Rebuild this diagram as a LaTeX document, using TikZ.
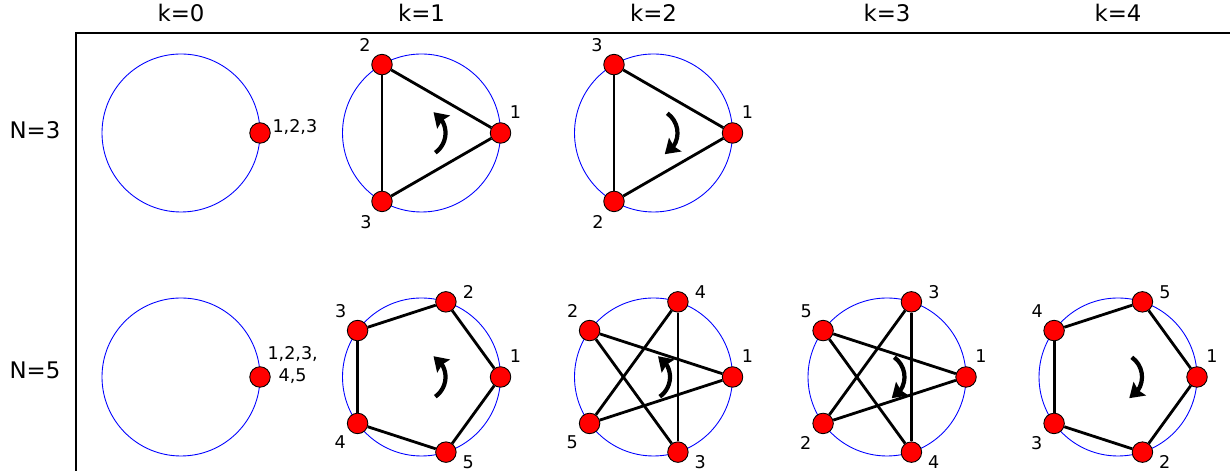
\documentclass[tikz,border=0pt]{standalone}
\usepackage{fontspec}
\setmainfont{DejaVu Sans}
\usetikzlibrary{positioning, arrows.meta, bending, calc}
\definecolor{ptred}{RGB}{255, 0, 0}
\definecolor{ringblue}{RGB}{0, 0, 255}

\begin{document}
\begin{tikzpicture}[
                ring/.style={draw=ringblue, line width=0.5pt},
                pt/.style={circle, draw=black, line width=0.5pt, fill=ptred, minimum size=0.41cm, inner sep=0pt},
                lbl/.style={font=\fontsize{10}{12.5}\selectfont, inner sep=0pt},
                head/.style={font=\fontsize{13}{15}\selectfont},
                edge/.style={draw=black, line width=1.6pt},
                spin/.style={line width=2.4pt, -{Stealth[length=2.8mm, width=3.6mm, inset=0.4mm, flex]}},
                label distance=0.12cm
            ]
                \useasboundingbox (0,0) rectangle (24.6,9.42);

                % headers
                \node[head] (h0) at (3.62, 9.16) {k=0};
                \node[head] (h1) at (8.43, 9.16) {k=1};
                \node[head] (h2) at (13.07, 9.16) {k=2};
                \node[head] (h3) at (17.74, 9.16) {k=3};
                \node[head] (h4) at (22.36, 9.16) {k=4};
                \node[head] (r3) at (0.70, 6.82) {N=3};
                \node[head] (r5) at (0.70, 2.02) {N=5};

                % frame
                \draw[line width=1.1pt] (1.52, 0) -- (1.52, 8.76) -- (24.6, 8.76);

                % panel centres
                \coordinate (c30) at (3.62, 6.76);
                \coordinate (c31) at (8.43, 6.76);
                \coordinate (c32) at (13.07, 6.76);
                \coordinate (c50) at (3.62, 1.88);
                \coordinate (c51) at (8.43, 1.88);
                \coordinate (c52) at (13.07, 1.88);
                \coordinate (c53) at (17.74, 1.88);
                \coordinate (c54) at (22.36, 1.88);

                % N=3, k=0
                \draw[ring] (c30) circle (1.58);
                \node[pt] (n30) at ($(c30)+(0:1.58)$) {};
                \node[lbl, anchor=west] (t30) at ($(n30.east)+(0.03, 0.12)$) {1,2,3};

                % N=3, k=1
                \draw[ring] (c31) circle (1.58);
                \node[pt, label={[lbl]57:1}] (n31-1) at ($(c31)+(0:1.58)$) {};
                \node[pt, label={[lbl]132:2}] (n31-2) at ($(c31)+(120:1.58)$) {};
                \node[pt, label={[lbl]233:3}] (n31-3) at ($(c31)+(240:1.58)$) {};
                \draw[edge] (n31-1) -- (n31-2);
                \draw[edge] (n31-2) -- (n31-3);
                \draw[edge] (n31-3) -- (n31-1);
                \draw[spin] ($(c31)+(-55:0.48)$) arc[start angle=-55, end angle=60, radius=0.48];

                % N=3, k=2
                \draw[ring] (c32) circle (1.58);
                \node[pt, label={[lbl]57:1}] (n32-1) at ($(c32)+(0:1.58)$) {};
                \node[pt, label={[lbl]233:2}] (n32-2) at ($(c32)+(240:1.58)$) {};
                \node[pt, label={[lbl]132:3}] (n32-3) at ($(c32)+(120:1.58)$) {};
                \draw[edge] (n32-1) -- (n32-2);
                \draw[edge] (n32-2) -- (n32-3);
                \draw[edge] (n32-3) -- (n32-1);
                \draw[spin] ($(c32)+(55:0.48)$) arc[start angle=55, end angle=-62, radius=0.48];

                % N=5, k=0
                \draw[ring] (c50) circle (1.58);
                \node[pt] (n50) at ($(c50)+(0:1.58)$) {};
                \node[lbl, anchor=west, align=center] (t50) at ($(n50.east)+(-0.07, 0.24)$) {1,2,3,\\4,5};

                % N=5, k=1
                \draw[ring] (c51) circle (1.58);
                \node[pt, label={[lbl]57:1}] (n51-1) at ($(c51)+(0:1.58)$) {};
                \node[pt, label={[lbl]9:2}] (n51-2) at ($(c51)+(72:1.58)$) {};
                \node[pt, label={[lbl]131:3}] (n51-3) at ($(c51)+(144:1.58)$) {};
                \node[pt, label={[lbl]227:4}] (n51-4) at ($(c51)+(216:1.58)$) {};
                \node[pt, label={[lbl]348:5}] (n51-5) at ($(c51)+(288:1.58)$) {};
                \draw[edge] (n51-1) -- (n51-2);
                \draw[edge] (n51-2) -- (n51-3);
                \draw[edge] (n51-3) -- (n51-4);
                \draw[edge] (n51-4) -- (n51-5);
                \draw[edge] (n51-5) -- (n51-1);
                \draw[spin] ($(c51)+(-55:0.48)$) arc[start angle=-55, end angle=60, radius=0.48];

                % N=5, k=2
                \draw[ring] (c52) circle (1.58);
                \node[pt, label={[lbl]57:1}] (n52-1) at ($(c52)+(0:1.58)$) {};
                \node[pt, label={[lbl]131:2}] (n52-2) at ($(c52)+(144:1.58)$) {};
                \node[pt, label={[lbl]348:3}] (n52-3) at ($(c52)+(288:1.58)$) {};
                \node[pt, label={[lbl]9:4}] (n52-4) at ($(c52)+(72:1.58)$) {};
                \node[pt, label={[lbl]227:5}] (n52-5) at ($(c52)+(216:1.58)$) {};
                \draw[edge] (n52-1) -- (n52-2);
                \draw[edge] (n52-2) -- (n52-3);
                \draw[edge] (n52-3) -- (n52-4);
                \draw[edge] (n52-4) -- (n52-5);
                \draw[edge] (n52-5) -- (n52-1);
                \draw[spin] ($(c52)+(-0.15,0)+(-55:0.48)$) arc[start angle=-55, end angle=60, radius=0.48];

                % N=5, k=3
                \draw[ring] (c53) circle (1.58);
                \node[pt, label={[lbl]57:1}] (n53-1) at ($(c53)+(0:1.58)$) {};
                \node[pt, label={[lbl]227:2}] (n53-2) at ($(c53)+(216:1.58)$) {};
                \node[pt, label={[lbl]9:3}] (n53-3) at ($(c53)+(72:1.58)$) {};
                \node[pt, label={[lbl]348:4}] (n53-4) at ($(c53)+(288:1.58)$) {};
                \node[pt, label={[lbl]131:5}] (n53-5) at ($(c53)+(144:1.58)$) {};
                \draw[edge] (n53-1) -- (n53-2);
                \draw[edge] (n53-2) -- (n53-3);
                \draw[edge] (n53-3) -- (n53-4);
                \draw[edge] (n53-4) -- (n53-5);
                \draw[edge] (n53-5) -- (n53-1);
                \draw[spin] ($(c53)+(-0.13,0)+(55:0.48)$) arc[start angle=55, end angle=-62, radius=0.48];

                % N=5, k=4
                \draw[ring] (c54) circle (1.58);
                \node[pt, label={[lbl]57:1}] (n54-1) at ($(c54)+(0:1.58)$) {};
                \node[pt, label={[lbl]348:2}] (n54-2) at ($(c54)+(288:1.58)$) {};
                \node[pt, label={[lbl]227:3}] (n54-3) at ($(c54)+(216:1.58)$) {};
                \node[pt, label={[lbl]131:4}] (n54-4) at ($(c54)+(144:1.58)$) {};
                \node[pt, label={[lbl]9:5}] (n54-5) at ($(c54)+(72:1.58)$) {};
                \draw[edge] (n54-1) -- (n54-2);
                \draw[edge] (n54-2) -- (n54-3);
                \draw[edge] (n54-3) -- (n54-4);
                \draw[edge] (n54-4) -- (n54-5);
                \draw[edge] (n54-5) -- (n54-1);
                \draw[spin] ($(c54)+(55:0.48)$) arc[start angle=55, end angle=-62, radius=0.48];
            \end{tikzpicture}
\end{document}
